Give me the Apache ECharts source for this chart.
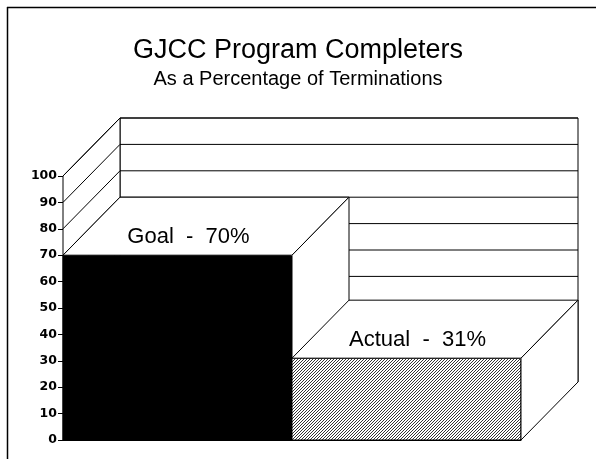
<!DOCTYPE html>
<html><head><meta charset="utf-8">
<script src="https://cdn.jsdelivr.net/npm/echarts@6/dist/echarts.min.js"></script>
<style>html,body{margin:0;padding:0;background:#fff}#c{width:596px;height:459px}</style>
</head><body><div id="c"></div>
<script>
const categories = ['Goal', 'Actual'];
const values = [70, 31];
const yTicks = [0, 10, 20, 30, 40, 50, 60, 70, 80, 90, 100];
const titleText = 'GJCC Program Completers';
const subtitleText = 'As a Percentage of Terminations';

const DX = 57, DY = -58;

function hatchCanvas() {
  const s = 3;
  const c = document.createElement('canvas');
  c.width = s; c.height = s;
  const g = c.getContext('2d');
  g.fillStyle = '#fff'; g.fillRect(0, 0, s, s);
  g.strokeStyle = '#000'; g.lineWidth = 0.8;
  g.beginPath(); g.moveTo(-1, s + 1); g.lineTo(s + 1, -1); g.stroke();
  g.beginPath(); g.moveTo(-1, 1); g.lineTo(1, -1); g.stroke();
  g.beginPath(); g.moveTo(s - 1, s + 1); g.lineTo(s + 1, s - 1); g.stroke();
  return c;
}
const hatch = { image: hatchCanvas(), repeat: 'repeat' };
const lineStyle = { stroke: '#000', lineWidth: 1 };

const chart = echarts.init(document.getElementById('c'), null, { renderer: 'canvas' });

function wallsRender(params, api) {
  const w = api.size([1, 0])[0];
  const left = api.coord([0, 0])[0] - w / 2;
  const right = api.coord([categories.length - 1, 0])[0] + w / 2;
  const y0 = api.coord([0, yTicks[0]])[1];
  const yTop = api.coord([0, yTicks[yTicks.length - 1]])[1];
  const children = [];
  children.push({ type: 'rect', shape: { x: left + DX, y: yTop + DY, width: right - left, height: y0 - yTop }, style: { fill: '#fff', stroke: '#000', lineWidth: 1 } });
  children.push({ type: 'polygon', shape: { points: [[left, yTop], [left + DX, yTop + DY], [left + DX, y0 + DY], [left, y0]] }, style: { fill: '#fff', stroke: '#000', lineWidth: 1 } });
  yTicks.forEach(v => {
    const y = api.coord([0, v])[1];
    children.push({ type: 'line', shape: { x1: left + DX, y1: y + DY, x2: right + DX, y2: y + DY }, style: lineStyle });
    children.push({ type: 'line', shape: { x1: left, y1: y, x2: left + DX, y2: y + DY }, style: lineStyle });
  });
  return { type: 'group', children };
}

function boxRender(params, api) {
  const i = api.value(0), v = api.value(1);
  const p1 = api.coord([i, v]);
  const p0 = api.coord([i, 0]);
  const w = api.size([1, 0])[0];
  const xl = p1[0] - w / 2, xr = p1[0] + w / 2, yt = p1[1], yb = p0[1];
  return {
    type: 'group',
    children: [
      { type: 'rect', shape: { x: xl, y: yt, width: w, height: yb - yt }, style: { fill: i === 0 ? '#000' : hatch, stroke: '#000', lineWidth: 1 } },
      { type: 'polygon', shape: { points: [[xl, yt], [xr, yt], [xr + DX, yt + DY], [xl + DX, yt + DY]] }, style: { fill: '#fff', stroke: '#000', lineWidth: 1 } },
      { type: 'polygon', shape: { points: [[xr, yt], [xr + DX, yt + DY], [xr + DX, yb + DY], [xr, yb]] }, style: { fill: '#fff', stroke: '#000', lineWidth: 1 } },
      { type: 'text', x: p1[0] + 11, y: yt - 18, style: { text: categories[i] + '  -  ' + v + '%', fill: '#000', font: '22px "Liberation Sans", Arial, sans-serif', textAlign: 'center', textVerticalAlign: 'middle' } }
    ]
  };
}

chart.setOption({
  animation: false,
  backgroundColor: '#fff',
  title: {
    text: titleText,
    subtext: subtitleText,
    left: 'center',
    top: 32,
    itemGap: 5,
    textStyle: { fontFamily: 'Liberation Sans', fontSize: 27, fontWeight: 'normal', color: '#000' },
    subtextStyle: { fontFamily: 'Liberation Sans', fontSize: 20, fontWeight: 'normal', color: '#000' }
  },
  graphic: [
    { type: 'line', shape: { x1: 7.5, y1: 7, x2: 7.5, y2: 459 }, style: { stroke: '#000', lineWidth: 1.5 } },
    { type: 'line', shape: { x1: 7, y1: 7.5, x2: 596, y2: 7.5 }, style: { stroke: '#000', lineWidth: 1.5 } }
  ],
  grid: { left: 63, right: 75, top: 176, bottom: 19, containLabel: false },
  xAxis: {
    type: 'category',
    data: categories,
    boundaryGap: true,
    axisLine: { show: true, lineStyle: { color: '#000' } },
    axisTick: { show: false },
    axisLabel: { show: false },
    splitLine: { show: false }
  },
  yAxis: {
    type: 'value',
    min: 0, max: 100, interval: 10,
    axisLine: { show: true, lineStyle: { color: '#000', width: 1 } },
    axisTick: { show: true, length: 5, lineStyle: { color: '#000' } },
    axisLabel: { color: '#000', fontFamily: 'DejaVu Sans', fontWeight: 'bold', fontSize: 12.5, margin: 6 },
    splitLine: { show: false }
  },
  series: [
    { type: 'custom', name: 'walls', data: [[0, 0]], renderItem: wallsRender, clip: false, z: 1, silent: true },
    { type: 'custom', name: 'bars', data: values.map((v, i) => [i, v]), renderItem: boxRender, clip: false, z: 3,
      encode: { x: 0, y: 1 } }
  ]
});
</script></body></html>
